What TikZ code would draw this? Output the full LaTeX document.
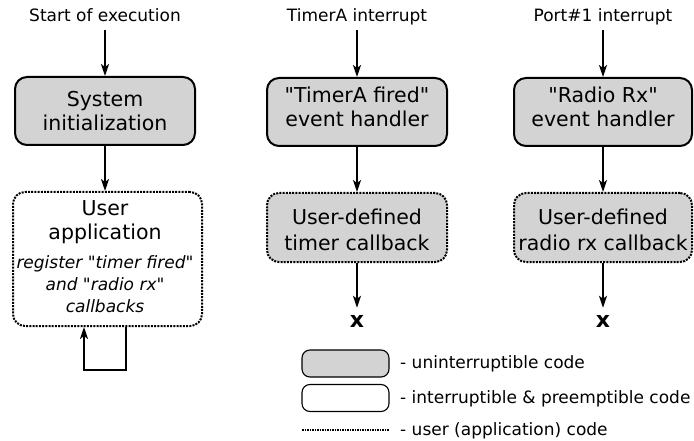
\documentclass[tikz,border=0pt]{standalone}
\usepackage{fontspec}
\setmainfont{DejaVu Sans}[Ligatures=TeXOff]
\usetikzlibrary{arrows.meta}
\definecolor{boxgray}{RGB}{211,211,211}
\tikzset{
  base/.style={inner sep=0pt, anchor=base},
  lbl/.style={base, font=\fontsize{17}{20}\selectfont},
  boxtxt/.style={base, font=\fontsize{20.5}{24}\selectfont},
  note/.style={base, font=\fontsize{17}{20}\selectfont\itshape},
  xmark/.style={base, inner sep=7pt, font=\fontsize{22}{24}\selectfont\bfseries},
  block/.style={draw, line width=2pt, rounded corners=12pt, inner sep=0pt},
  solidblock/.style={block, fill=boxgray},
  userblock/.style={block, dash pattern=on 2pt off 1.2pt},
  usergray/.style={userblock, fill=boxgray},
  legbox/.style={draw, line width=1.1pt, rounded corners=8pt, minimum width=87pt, minimum height=27pt, inner sep=0pt},
  legtxt/.style={inner sep=0pt, anchor=base west, font=\fontsize{17}{20}\selectfont},
  arr/.style={line width=1.6pt, -{Stealth[length=12pt,width=8pt,inset=3pt]}},
}
\begin{document}
\begin{tikzpicture}[x=1pt,y=-1pt]
\useasboundingbox (0,0) rectangle (694,441);

% ---- column 1: start of execution ----
\node[lbl] (start) at (105,22) {Start of execution};
\node[solidblock, minimum width=180pt, minimum height=68pt] (init) at (105,111) {};
\node[boxtxt] (initA) at (105,107) {System};
\node[boxtxt] (initB) at (105,131) {initialization};

\node[userblock, minimum width=189pt, minimum height=134pt] (app) at (107.5,259) {};
\node[boxtxt] (appA) at (105,215) {User};
\node[boxtxt] (appB) at (105,240) {application};
\node[note] (appC) at (105,268) {register "timer fired"};
\node[note] (appD) at (105,290) {and "radio rx"};
\node[note] (appE) at (105,312) {callbacks};

\draw[arr] ([yshift=-8pt]start.base) -- (init.north);
\draw[arr] (init.south) -- (app.north -| init.south);

% main loop
\coordinate (loopR) at (126,370);
\coordinate (loopL) at (84,370);
\draw[line width=1.6pt, -{Stealth[length=12pt,width=8pt,inset=3pt]}]
  (app.south -| loopR) -- (loopR) -- (loopL) -- (app.south -| loopL);

% ---- column 2: TimerA interrupt ----
\node[lbl] (tirq) at (357,22) {TimerA interrupt};
\node[solidblock, minimum width=180pt, minimum height=68pt] (thand) at (357,112) {};
\node[boxtxt] (thandA) at (357,103) {"TimerA fired"};
\node[boxtxt] (thandB) at (357,127) {event handler};

\node[usergray, minimum width=180pt, minimum height=69pt] (tcb) at (357,227.5) {};
\node[boxtxt] (tcbA) at (357,225) {User-defined};
\node[boxtxt] (tcbB) at (357,250.5) {timer callback};

\node[xmark] (tx) at (357,327) {x};

\draw[arr] ([yshift=-8pt]tirq.base) -- (thand.north);
\draw[arr] (thand.south) -- (tcb.north);
\draw[arr] (tcb.south) -- (tx.north);

% ---- column 3: Port#1 interrupt ----
\node[lbl] (pirq) at (603,22) {Port\#1 interrupt};
\node[solidblock, minimum width=178pt, minimum height=68pt] (rhand) at (603,112) {};
\node[boxtxt] (rhandA) at (603,103) {"Radio Rx"};
\node[boxtxt] (rhandB) at (603,127) {event handler};

\node[usergray, minimum width=178pt, minimum height=69pt] (rcb) at (603,227.5) {};
\node[boxtxt] (rcbA) at (603,225) {User-defined};
\node[boxtxt] (rcbB) at (603,250.5) {radio rx callback};

\node[xmark] (rx) at (603,327) {x};

\draw[arr] ([yshift=-8pt]pirq.base) -- (rhand.north);
\draw[arr] (rhand.south) -- (rcb.north);
\draw[arr] (rcb.south) -- (rx.north);

% ---- legend ----
\node[legbox, fill=boxgray] (lg1) at (345.5,363.5) {};
\node[legtxt] (lt1) at (400,368) {- uninterruptible code};
\node[legbox] (lg2) at (345.5,398) {};
\node[legtxt] (lt2) at (400,403) {- interruptible \& preemptible code};
\coordinate (ld1) at (302,430);
\coordinate (ld2) at (389,430);
\draw[line width=1.5pt, dash pattern=on 1.5pt off 1pt] (ld1) -- (ld2);
\node[legtxt] (lt3) at (400,435) {- user (application) code};
\end{tikzpicture}
\end{document}
